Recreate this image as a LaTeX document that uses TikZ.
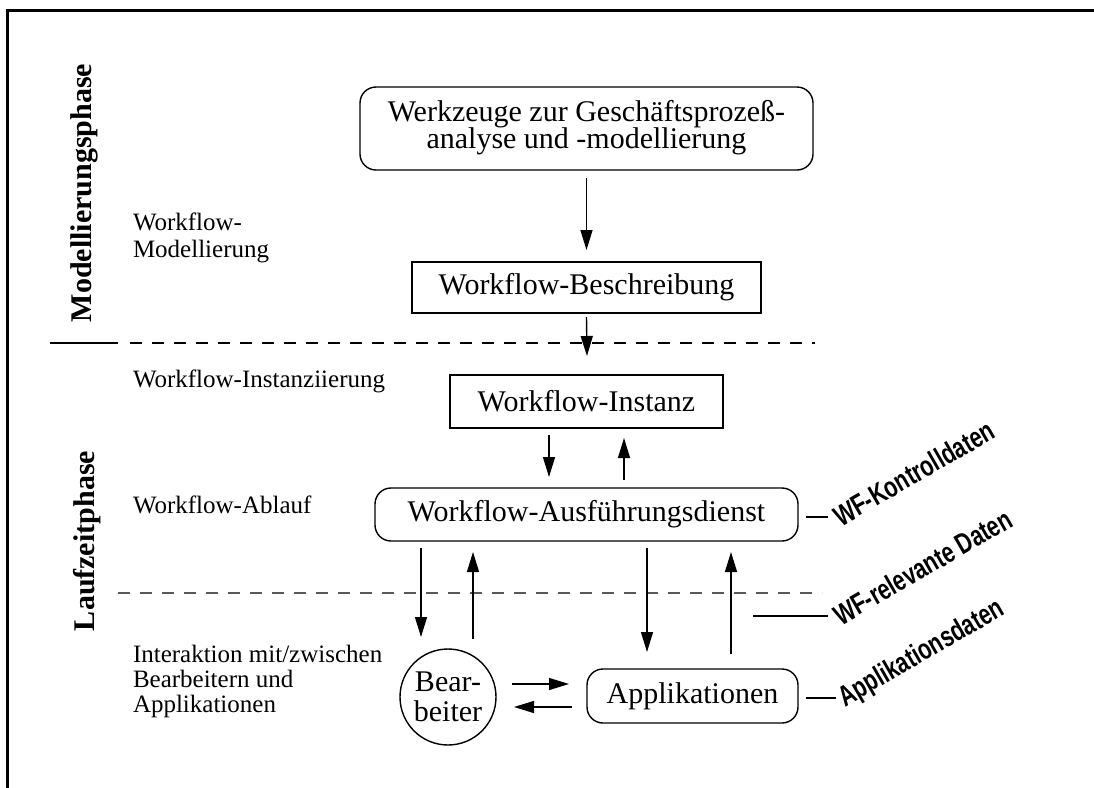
\documentclass[tikz,border=0pt]{standalone}
\usepackage{fontspec}
\setmainfont{Liberation Serif}
\newfontfamily\datafont{Liberation Sans}[FakeStretch=0.74]
\usetikzlibrary{arrows.meta}
\begin{document}
\begin{tikzpicture}[x=0.5pt,y=-0.5pt,
  every node/.style={inner sep=0pt, outer sep=0pt},
  box/.style={draw, line width=0.7pt, align=center, font=\fontsize{15}{14}\selectfont},
  rbox/.style={box, rounded corners=8pt},
  arr/.style={-{Triangle[length=10pt,width=6pt]}, line width=0.7pt},
  conn/.style={line width=0.7pt},
  sep/.style={line width=0.7pt, dash pattern=on 6pt off 5pt},
  side/.style={anchor=base west, align=left, font=\fontsize{12.5}{13.5}\selectfont},
  phase/.style={rotate=90, font=\fontsize{15}{15}\selectfont\bfseries},
  dlabel/.style={anchor=base west, rotate=30, font=\datafont\bfseries\fontsize{14.5}{14.5}\selectfont}]
\fill[white] (0,0) rectangle (1094,788);
\useasboundingbox (0,0) rectangle (1094,788);

% outer frame (top and left edges)
\draw[line width=1.5pt] (7,788) -- (7,10) -- (1094,10);

% phase labels
\node[phase] (mphase) at (84,193) {Modellierungsphase};
\node[phase] (lphase) at (87,541) {Laufzeitphase};

% phase separators
\draw[conn] (50,343) -- (118,343);
\draw[sep] (130,343) -- (815,343);
\draw[sep, black!65] (118,593) -- (822,593);

% step descriptions (base = last line)
\node[side] (smod) at (133,257) {Workflow-\\Modellierung};
\node[side] (sinst) at (133,387) {Workflow-Instanziierung};
\node[side] (sabl) at (133,513) {Workflow-Ablauf};
\node[side, font=\fontsize{12.5}{12.5}\selectfont] (sint) at (133,712) {Interaktion mit/zwischen\\Bearbeitern und\\Applikationen};

% components
\node[rbox, minimum width=226.5pt, minimum height=41.5pt] (werk) at (586.5,128.5)
  {\raisebox{-2pt}{\begin{tabular}{@{}c@{}}Werkzeuge zur Geschäftsprozeß-\\[-1pt]analyse und -modellierung\end{tabular}}};
\node[box, minimum width=174.5pt, minimum height=25.5pt] (beschr) at (586.5,287.5) {Workflow-Beschreibung};
\node[box, minimum width=136.5pt, minimum height=26.5pt] (inst) at (586.5,401.5) {Workflow-Instanz};
\node[rbox, minimum width=211.5pt, minimum height=26.5pt] (dienst) at (586.5,514.5) {Workflow-Ausführungsdienst};
\node[rbox, minimum width=105.5pt, minimum height=27pt] (appl) at (692.5,696) {Applikationen};
\node[circle, draw, line width=0.7pt, minimum size=48pt, align=center,
      font=\fontsize{15}{15}\selectfont] (bearb) at (448,697) {Bear-\\beiter};

% flows
\coordinate (instin) at (587,356);
\draw[arr] ([yshift=-4pt]werk.south) -- ([yshift=6pt]beschr.north);
\draw[arr] ([yshift=-2pt]beschr.south) -- (instin);
\draw[arr] ([xshift=-18.75pt,yshift=-3.5pt]inst.south) -- ([xshift=-18.75pt,yshift=5.5pt]dienst.north);
\draw[arr] ([xshift=18.75pt,yshift=4pt]dienst.north) -- ([xshift=18.75pt,yshift=-5pt]inst.south);
\draw[arr] ([xshift=-82.75pt,yshift=-3.5pt]dienst.south) -- ([xshift=-13.5pt,yshift=6pt]bearb.north);
\draw[arr] ([xshift=12.5pt,yshift=5pt]bearb.north) -- ([xshift=-56.75pt,yshift=-5.5pt]dienst.south);
\draw[arr] ([xshift=30.25pt,yshift=-3.5pt]dienst.south) -- ([xshift=-22.75pt,yshift=8.5pt]appl.north);
\draw[arr] ([xshift=19.25pt,yshift=7.5pt]appl.north) -- ([xshift=72.25pt,yshift=-5.5pt]dienst.south);
\draw[arr] ([xshift=8pt,yshift=6.5pt]bearb.east) -- ([xshift=-9pt,yshift=6pt]appl.west);
\draw[arr] ([xshift=-7.5pt,yshift=-5.5pt]appl.west) -- ([xshift=9pt,yshift=-5pt]bearb.east);

% data categories
\node[dlabel] (kdat) at (841,527) {WF-Kontrolldaten};
\node[dlabel] (rdat) at (841,626) {WF-relevante Daten};
\node[dlabel] (adat) at (845,707) {Applikationsdaten};
\coordinate (kend) at (828,517);
\coordinate (rbeg) at (753,616);
\coordinate (rend) at (828,616);
\coordinate (aend) at (836,698);
\draw[conn] ([xshift=4pt,yshift=-1.25pt]dienst.east) -- (kend);
\draw[conn] (rbeg) -- (rend);
\draw[conn] ([xshift=4pt,yshift=-1pt]appl.east) -- (aend);
\end{tikzpicture}
\end{document}
